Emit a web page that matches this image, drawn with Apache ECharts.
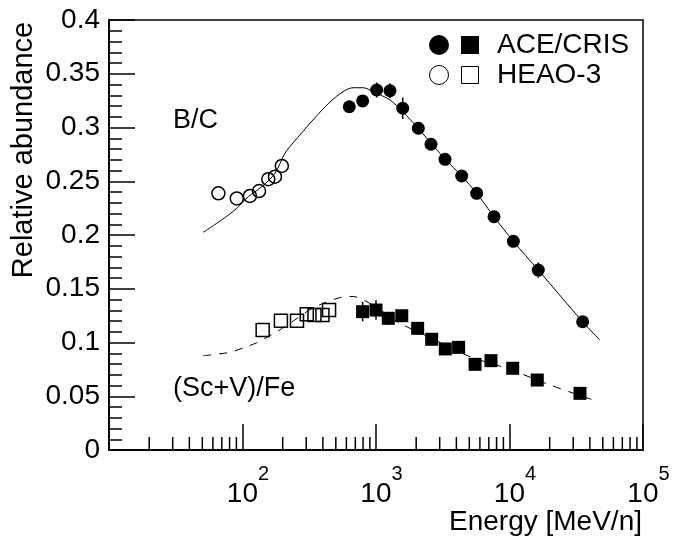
<!DOCTYPE html>
<html><head><meta charset="utf-8">
<script src="https://cdn.jsdelivr.net/npm/echarts@6/dist/echarts.min.js"></script>
<style>html,body{margin:0;padding:0;background:#fff}#c{width:678px;height:538px}</style>
</head><body><div id="c"></div>
<script>
// ---- Data (energy in MeV/n, relative abundance) ----
const bcHeaoE = [66, 90.6, 113.7, 133, 156, 175, 197];
const bcHeaoV = [0.2388, 0.2340, 0.2363, 0.2409, 0.2519, 0.2542, 0.2642];

const bcAceE = [631, 794, 1012, 1273, 1585, 2075, 2582, 3288, 4385, 5677, 7656, 10690, 16440, 35300];
const bcAceV = [0.3193, 0.3247, 0.3349, 0.3342, 0.3179, 0.2993, 0.2844, 0.2704, 0.2549, 0.2388, 0.2170, 0.1941, 0.1674, 0.1193];
const bcAceErr = [0.005, 0.005, 0.007, 0.007, 0.010, 0.005, 0.005, 0.005, 0.005, 0.005, 0.005, 0.005, 0.007, 0.005];

const scvHeaoE = [141.6, 194, 256, 303, 346, 397, 445];
const scvHeaoV = [0.1116, 0.1203, 0.1203, 0.1262, 0.1256, 0.1256, 0.1302];

const scvAceE = [794, 1000, 1236, 1560, 2051, 2612, 3304, 4159, 5521, 7265, 10570, 16150, 33730];
const scvAceV = [0.1287, 0.1302, 0.1225, 0.1249, 0.1132, 0.1030, 0.0940, 0.0955, 0.0797, 0.0831, 0.0760, 0.0651, 0.0527];
const scvAceErr = [0.009, 0.009, 0.006, 0.005, 0.004, 0.004, 0.004, 0.004, 0.004, 0.004, 0.004, 0.004, 0.004];

const bcModelE = [50.8, 69.8, 90.6, 110.5, 139.3, 175, 208, 239, 337, 452, 566, 673, 800, 951, 1273, 1585, 2065, 2537, 3288, 4385, 5677, 7656, 10690, 16440, 35300, 47600];
const bcModelV = [0.2025, 0.2140, 0.2248, 0.2356, 0.2449, 0.2574, 0.2760, 0.2856, 0.3070, 0.3237, 0.3333, 0.3370, 0.3370, 0.3333, 0.3256, 0.3147, 0.2995, 0.2865, 0.2707, 0.2549, 0.2388, 0.2170, 0.1941, 0.1674, 0.1193, 0.1023];

const scvModelE = [50.8, 80.5, 107, 128, 180, 227, 303, 403, 537, 676, 804, 1000, 1514, 2512, 5058, 9530, 20100, 42500];
const scvModelV = [0.0877, 0.0909, 0.0961, 0.0998, 0.1100, 0.1179, 0.1287, 0.1365, 0.1417, 0.1428, 0.1395, 0.1330, 0.1179, 0.1049, 0.0868, 0.0760, 0.0605, 0.0465];

const xMinorTicks = [20,30,40,50,60,70,80,90, 200,300,400,500,600,700,800,900, 2000,3000,4000,5000,6000,7000,8000,9000, 20000,30000,40000,50000,60000,70000,80000,90000];
const yTickLabels = ['0', '0.05', '0.1', '0.15', '0.2', '0.25', '0.3', '0.35', '0.4'];

const legendRows = ['ACE/CRIS', 'HEAO-3'];
const seriesLabels = ['B/C', '(Sc+V)/Fe'];
const xTitle = 'Energy [MeV/n]';
const yTitle = 'Relative abundance';

// ---- Chart ----
const FONT = 'Liberation Sans';
const chart = echarts.init(document.getElementById('c'), null, {renderer: 'canvas'});
const pairs = (xs, ys) => xs.map((x, i) => [x, ys[i]]);
const errData = (xs, ys, es) => xs.map((x, i) => [x, ys[i] - es[i], ys[i] + es[i]]);

function errRender(params, api) {
  const p1 = api.coord([api.value(0), api.value(1)]);
  const p2 = api.coord([api.value(0), api.value(2)]);
  return {type: 'line', shape: {x1: p1[0], y1: p1[1], x2: p2[0], y2: p2[1]},
          style: {stroke: '#000', lineWidth: 1.5}};
}
function tickRender(params, api) {
  const p = api.coord([api.value(0), 0]);
  return {type: 'line', shape: {x1: p[0], y1: p[1], x2: p[0], y2: p[1] - 13},
          style: {stroke: '#000', lineWidth: 1.5}};
}

const option = {
  animation: false,
  backgroundColor: '#fff',
  grid: {left: 109, right: 35, top: 20, bottom: 88, show: true, borderColor: '#000', borderWidth: 1.5, backgroundColor: 'transparent'},
  xAxis: {
    type: 'log', logBase: 10, min: 10, max: 100000,
    axisLine: {show: true, lineStyle: {color: '#000', width: 2}},
    axisTick: {show: true, inside: true, length: 26, lineStyle: {color: '#000', width: 1.5}},
    minorTick: {show: false},
    splitLine: {show: false},
    axisLabel: {
      margin: 14, showMinLabel: true, showMaxLabel: true,
      formatter: function (v) {
        const e = Math.round(Math.log10(v));
        if (e <= 1) return '';
        return '{b|10}{s|' + e + '}';
      },
      rich: {
        b: {fontSize: 28, fontFamily: FONT, color: '#000', lineHeight: 44, verticalAlign: 'bottom', padding: [0, 0, 0, 11]},
        s: {fontSize: 20, fontFamily: FONT, color: '#000', lineHeight: 44, verticalAlign: 'top'}
      }
    }
  },
  yAxis: {
    type: 'value', min: 0, max: 0.4, interval: 0.05,
    axisLine: {show: true, lineStyle: {color: '#000', width: 2}},
    axisTick: {show: true, inside: true, length: 26, lineStyle: {color: '#000', width: 1.5}},
    minorTick: {show: true, splitNumber: 5, length: 13, lineStyle: {color: '#000', width: 1.5}},
    splitLine: {show: false},
    axisLabel: {
      margin: 9, fontSize: 28, fontFamily: FONT, color: '#000',
      formatter: function (v) { return yTickLabels[Math.round(v / 0.05)]; }
    }
  },
  series: [
    {type: 'custom', renderItem: tickRender, data: xMinorTicks.map(v => [v, 0]), silent: true, clip: false, z: 1},
    {type: 'line', data: pairs(bcModelE, bcModelV), showSymbol: false, smooth: 0.3,
     lineStyle: {color: '#000', width: 1}, z: 2},
    {type: 'line', data: pairs(scvModelE, scvModelV), showSymbol: false, smooth: 0.3,
     lineStyle: {color: '#000', width: 1, type: [8, 8]}, z: 2},
    {type: 'custom', renderItem: errRender, data: errData(bcAceE, bcAceV, bcAceErr), z: 3},
    {type: 'custom', renderItem: errRender, data: errData(scvAceE, scvAceV, scvAceErr), z: 3},
    {type: 'scatter', data: pairs(bcHeaoE, bcHeaoV), symbol: 'circle', symbolSize: 13,
     itemStyle: {color: 'rgba(0,0,0,0)', borderColor: '#000', borderWidth: 1.5, opacity: 1}, z: 4},
    {type: 'scatter', data: pairs(bcAceE, bcAceV), symbol: 'circle', symbolSize: 13,
     itemStyle: {color: '#000', opacity: 1}, z: 4},
    {type: 'scatter', data: pairs(scvHeaoE, scvHeaoV), symbol: 'rect', symbolSize: 13,
     itemStyle: {color: 'rgba(0,0,0,0)', borderColor: '#000', borderWidth: 1.5, opacity: 1}, z: 4},
    {type: 'scatter', data: pairs(scvAceE, scvAceV), symbol: 'rect', symbolSize: 13,
     itemStyle: {color: '#000', opacity: 1}, z: 4}
  ],
  graphic: [
    {type: 'circle', shape: {cx: 439, cy: 45, r: 10}, style: {fill: '#000'}},
    {type: 'rect', shape: {x: 461, y: 36, width: 18, height: 18}, style: {fill: '#000'}},
    {type: 'text', x: 497, y: 45, style: {text: legendRows[0], fontSize: 28, fontFamily: FONT, fill: '#000', align: 'left', verticalAlign: 'middle'}},
    {type: 'circle', shape: {cx: 439, cy: 75, r: 9.5}, style: {fill: 'none', stroke: '#000', lineWidth: 1}},
    {type: 'rect', shape: {x: 461.5, y: 66.5, width: 17, height: 17}, style: {fill: 'none', stroke: '#000', lineWidth: 1}},
    {type: 'text', x: 497, y: 75, style: {text: legendRows[1], fontSize: 28, fontFamily: FONT, fill: '#000', align: 'left', verticalAlign: 'middle'}},
    {type: 'text', x: 173, y: 121, style: {text: seriesLabels[0], fontSize: 27, fontFamily: FONT, fill: '#000', align: 'left', verticalAlign: 'middle'}},
    {type: 'text', x: 173, y: 389, style: {text: seriesLabels[1], fontSize: 27, fontFamily: FONT, fill: '#000', align: 'left', verticalAlign: 'middle'}},
    {type: 'text', x: 642, y: 522, style: {text: xTitle, fontSize: 28, fontFamily: FONT, fill: '#000', align: 'right', verticalAlign: 'middle'}},
    {type: 'text', x: 24, y: 150, rotation: Math.PI / 2, style: {text: yTitle, fontSize: 29, fontFamily: FONT, fill: '#000', align: 'center', verticalAlign: 'middle'}}
  ]
};
chart.setOption(option);
</script>
</body></html>
